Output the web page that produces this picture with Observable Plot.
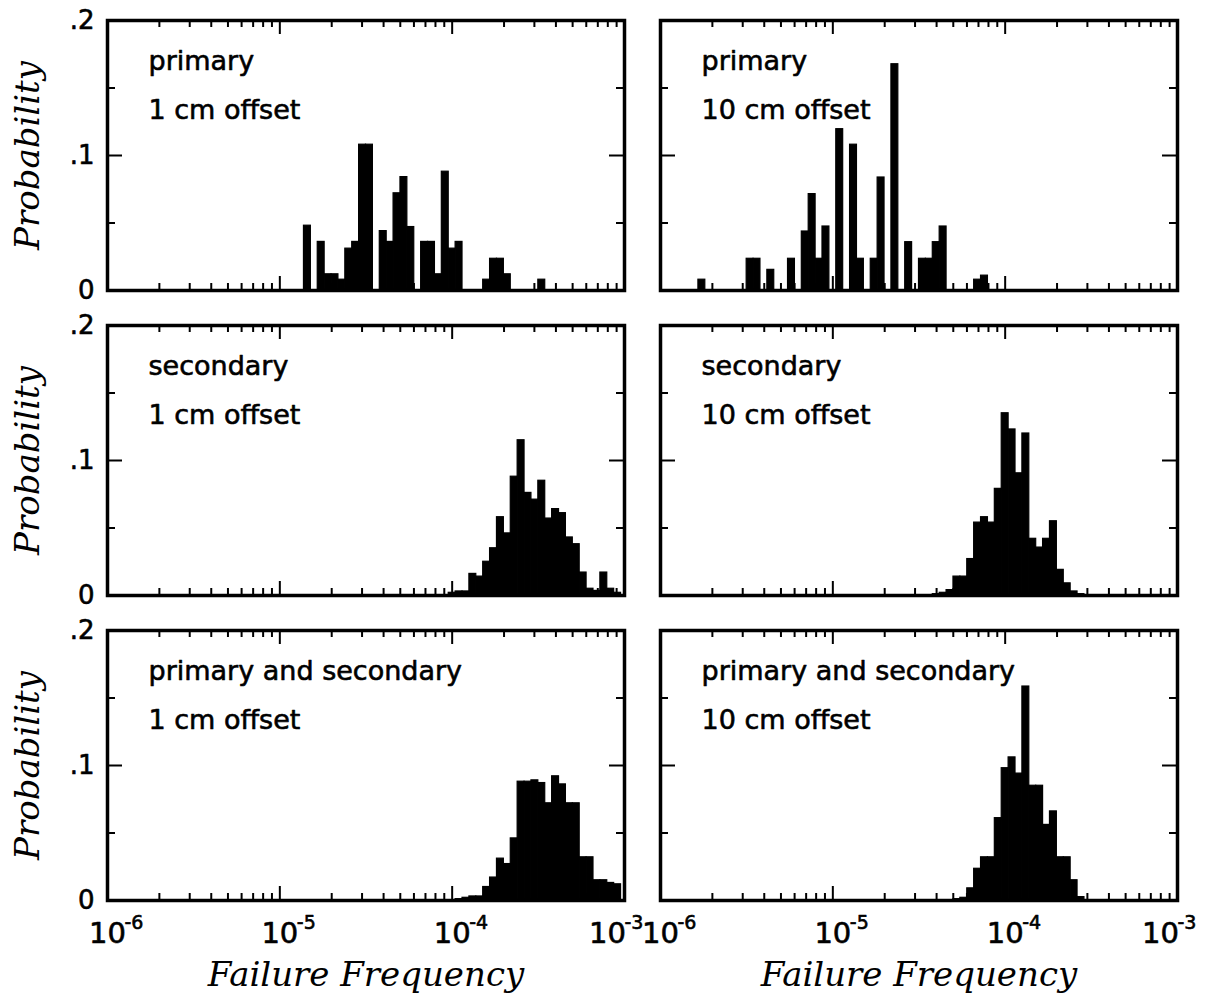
<!DOCTYPE html>
<html>
<head>
<meta charset="utf-8">
<script src="https://cdn.jsdelivr.net/npm/d3@7"></script>
<script src="https://cdn.jsdelivr.net/npm/@observablehq/plot@0.6"></script>
<style>
  html, body { margin: 0; padding: 0; background: #fff; }
  #chart { width: 1220px; height: 1006px; }
</style>
</head>
<body>
<div id="chart"></div>
<script>
// ---------- data ----------
const offsets = ["1 cm offset", "10 cm offset"];
const panelTypes = ["primary", "secondary", "primary and secondary"];

// histogram bins are 0.04 decade wide; bin k is centred on 10^(-6 + 0.04·k)
const firstDecade = -6;
const binDex = 0.04;

const decadeTicks = [1e-6, 1e-5, 1e-4, 1e-3];
const decadeExponents = ["-6", "-5", "-4", "-3"];
const yTickValues = [0.2, 0.1, 0];
const yTickLabels = [".2", ".1", "0"];
const yMinorTicks = [0.05, 0.15];
const yMajorTicks = [0.1];

// probabilities per panel (first bin index + consecutive bin values)
const primary1cmFirstBin = 29;
const primary1cm = [0.048, 0, 0.036, 0.012, 0.012, 0.008, 0.031, 0.036, 0.108, 0.108,
  0, 0.044, 0.036, 0.072, 0.084, 0.047, 0, 0.036, 0.036, 0.012,
  0.088, 0.031, 0.036, 0, 0, 0, 0.008, 0.0235, 0.0235, 0.012,
  0, 0, 0, 0, 0.008];

const primary10cmFirstBin = 6;
const primary10cm = [0.008, 0, 0, 0, 0, 0, 0, 0.0235, 0.0235, 0,
  0.0153, 0, 0, 0.0235, 0, 0.0437, 0.0714, 0.0235, 0.0474, 0,
  0.1195, 0, 0.108, 0.0235, 0, 0.0235, 0.0837, 0, 0.1676, 0,
  0.0358, 0, 0.0235, 0.0235, 0.0358, 0.0474, 0, 0, 0, 0,
  0.008, 0.011];

const secondary1cmFirstBin = 50;
const secondary1cm = [0.002, 0.003, 0.003, 0.016, 0.014, 0.025, 0.035, 0.058, 0.046, 0.088,
  0.115, 0.076, 0.071, 0.085, 0.057, 0.064, 0.061, 0.043, 0.038, 0.017,
  0.005, 0.0034, 0.017, 0.005, 0.002];

const secondary10cmFirstBin = 40;
const secondary10cm = [0.001, 0.002, 0.004, 0.014, 0.014, 0.027, 0.054, 0.058, 0.054, 0.079,
  0.135, 0.123, 0.0905, 0.12, 0.042, 0.0355, 0.042, 0.055, 0.019, 0.009,
  0.003, 0.001];

const both1cmFirstBin = 51;
const both1cm = [0.001, 0.002, 0.003, 0.003, 0.010, 0.017, 0.031, 0.027, 0.046, 0.088,
  0.088, 0.089, 0.087, 0.072, 0.092, 0.086, 0.072, 0.072, 0.032, 0.032,
  0.015, 0.015, 0.013, 0.012];

const both10cmFirstBin = 43;
const both10cm = [0.001, 0.002, 0.009, 0.0235, 0.032, 0.032, 0.061, 0.098, 0.106, 0.094,
  0.1585, 0.085, 0.085, 0.056, 0.066, 0.032, 0.032, 0.015, 0.0025];

// ---------- build table ----------
const bars = [];
function addPanel(type, offset, firstBin, values) {
  values.forEach((p, i) => {
    if (p <= 0) return;
    const k = firstBin + i;
    bars.push({
      type, offset, p,
      x1: Math.pow(10, firstDecade + binDex * (k - 0.5)),
      x2: Math.pow(10, firstDecade + binDex * (k + 0.5))
    });
  });
}
addPanel(panelTypes[0], offsets[0], primary1cmFirstBin, primary1cm);
addPanel(panelTypes[0], offsets[1], primary10cmFirstBin, primary10cm);
addPanel(panelTypes[1], offsets[0], secondary1cmFirstBin, secondary1cm);
addPanel(panelTypes[1], offsets[1], secondary10cmFirstBin, secondary10cm);
addPanel(panelTypes[2], offsets[0], both1cmFirstBin, both1cm);
addPanel(panelTypes[2], offsets[1], both10cmFirstBin, both10cm);

const leftCol = offsets[0];
const bottomRow = panelTypes[2];
const panels = offsets.flatMap(o => panelTypes.map(t => ({offset: o, type: t})));
const yLabelRows = panelTypes.flatMap(t => yTickValues.map((v, i) => ({type: t, offset: leftCol, v, label: yTickLabels[i]})));
const xLabelRows = offsets.flatMap(o => decadeTicks.map((v, i) => ({type: bottomRow, offset: o, v, exp: decadeExponents[i]})));
const isLast = d => d.v === decadeTicks[decadeTicks.length - 1];

const logTicks = d3.scaleLog().domain([decadeTicks[0], decadeTicks[decadeTicks.length - 1]]).ticks();
const xMinorTicks = logTicks.filter(t => !decadeTicks.some(d => Math.abs(t / d - 1) < 1e-9));

// ---------- styling ----------
const sans = "DejaVu Sans, Verdana, sans-serif";
const serif = "DejaVu Serif, Georgia, serif";
const panelW = 517, panelH = 270;
const xMinorLen = 7, xMajorLen = 14, yMinorLen = 8, yMajorLen = 15;
const tickStyle = {stroke: "black", strokeWidth: 2};
const labelInk = {fill: "black", stroke: "black", strokeWidth: 0.6};
const fx = "offset", fy = "type";

const chart = Plot.plot({
  width: 1220,
  height: 1006,
  marginLeft: 107,
  marginRight: 43,
  marginTop: 20,
  marginBottom: 106,
  style: {background: "white", fontFamily: sans, color: "black"},
  x: {type: "log", domain: [1e-6, 1e-3], axis: null},
  y: {domain: [0, 0.2], axis: null},
  fx: {domain: offsets, paddingInner: 0.0651, paddingOuter: 0, axis: null},
  fy: {domain: panelTypes, paddingInner: 0.1148, paddingOuter: 0, axis: null},
  marks: [
    Plot.rect(bars, {fx, fy, x1: "x1", x2: "x2", y1: 0, y2: "p", fill: "black", stroke: "black", strokeWidth: 1.2}),
    // x ticks (inward, bottom & top)
    Plot.tickX(xMinorTicks, {x: d => d, insetTop: panelH - xMinorLen, ...tickStyle}),
    Plot.tickX(xMinorTicks, {x: d => d, insetBottom: panelH - xMinorLen, ...tickStyle}),
    Plot.tickX(decadeTicks, {x: d => d, insetTop: panelH - xMajorLen, ...tickStyle}),
    Plot.tickX(decadeTicks, {x: d => d, insetBottom: panelH - xMajorLen, ...tickStyle}),
    // y ticks (inward, left & right)
    Plot.tickY(yMinorTicks, {y: d => d, insetRight: panelW - yMinorLen, ...tickStyle}),
    Plot.tickY(yMinorTicks, {y: d => d, insetLeft: panelW - yMinorLen, ...tickStyle}),
    Plot.tickY(yMajorTicks, {y: d => d, insetRight: panelW - yMajorLen, ...tickStyle}),
    Plot.tickY(yMajorTicks, {y: d => d, insetLeft: panelW - yMajorLen, ...tickStyle}),
    Plot.frame({stroke: "black", strokeWidth: 3.5}),
    // panel labels
    Plot.text(panels, {fx, fy, text: "type", frameAnchor: "top-left", dx: 41, dy: 41,
      textAnchor: "start", lineAnchor: "middle", fontSize: 27, fontFamily: sans, ...labelInk}),
    Plot.text(panels, {fx, fy, text: "offset", frameAnchor: "top-left", dx: 41, dy: 90,
      textAnchor: "start", lineAnchor: "middle", fontSize: 27, fontFamily: sans, ...labelInk}),
    // y tick labels
    Plot.text(yLabelRows, {fx, fy, y: "v", text: "label", frameAnchor: "left", dx: -13,
      textAnchor: "end", lineAnchor: "middle", fontSize: 26, fontFamily: sans, ...labelInk}),
    // x tick labels: base "10" and superscript exponent
    Plot.text(xLabelRows.filter(d => !isLast(d)), {fx, fy, x: "v", text: () => "10", frameAnchor: "bottom",
      textAnchor: "middle", dy: 33, lineAnchor: "middle", fontSize: 29, fontFamily: sans, ...labelInk}),
    Plot.text(xLabelRows.filter(isLast), {fx, fy, x: "v", text: () => "10", frameAnchor: "bottom",
      textAnchor: "middle", dx: -17, dy: 33, lineAnchor: "middle", fontSize: 29, fontFamily: sans, ...labelInk}),
    Plot.text(xLabelRows.filter(d => !isLast(d)), {fx, fy, x: "v", text: "exp", frameAnchor: "bottom",
      dx: 17, dy: 22, textAnchor: "start", lineAnchor: "middle", fontSize: 19, fontFamily: sans, ...labelInk}),
    Plot.text(xLabelRows.filter(isLast), {fx, fy, x: "v", text: "exp", frameAnchor: "bottom",
      dx: 0, dy: 22, textAnchor: "start", lineAnchor: "middle", fontSize: 19, fontFamily: sans, ...labelInk}),
    // axis titles
    Plot.text(panelTypes.map(t => ({type: t, offset: leftCol})), {fx, fy, text: () => "Probability",
      frameAnchor: "left", dx: -79, rotate: -90, textAnchor: "middle", lineAnchor: "middle", fontSize: 34,
      fontStyle: "italic", fontFamily: serif, fill: "black"}),
    Plot.text(offsets.map(o => ({type: bottomRow, offset: o})), {fx, fy, text: () => "Failure Frequency",
      frameAnchor: "bottom", dy: 75, textAnchor: "middle", lineAnchor: "middle", fontSize: 34,
      fontStyle: "italic", fontFamily: serif, fill: "black"})
  ]
});
document.getElementById("chart").appendChild(chart);
</script>
</body>
</html>
